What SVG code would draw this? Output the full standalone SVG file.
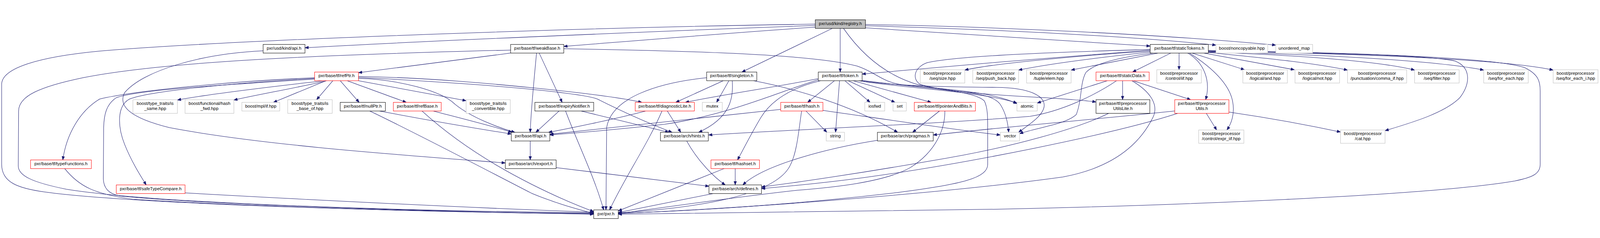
<svg xmlns="http://www.w3.org/2000/svg" width="4816" height="608" viewBox="0 0 4816 608" style="width:100%;height:100%">
<defs>
<marker id="ah" markerUnits="userSpaceOnUse" markerWidth="12" markerHeight="10" refX="11" refY="5" orient="auto">
<path d="M0.5,1 L11,5 L0.5,9 z" fill="#191970" stroke="#191970" stroke-width="1"/>
</marker>
<style>
.e{fill:none;stroke:#191970;stroke-width:1.2;marker-end:url(#ah)}
.b{fill:#ffffff;stroke:#000000;stroke-width:1.2}
.r{fill:#ffffff;stroke:#ff0000;stroke-width:1.2}
.g{fill:#ffffff;stroke:#bfbfbf;stroke-width:1.2}
.root{fill:#bfbfbf;stroke:#000000;stroke-width:1.2}
text{font-family:"Liberation Sans",Arial,Helvetica,sans-serif;font-size:13.33px;fill:#000000;text-anchor:middle}
</style>
</defs>
<rect width="4816" height="608" fill="#ffffff"/>
<g id="edges">
<path class="e" d="M2454,19 C1800,28 700,66 300,100 C120,117 5,150 5,200 L5,440 C5,495 55,512 133,523 C400,560 1300,585 1787,588"/>
<path class="e" d="M2454,23 C2100,36 1300,68 918,90"/>
<path class="e" d="M2454,28 C2200,45 1900,70 1697,86"/>
<path class="e" d="M2505,32 L2233,163"/>
<path class="e" d="M2529,32 L2529,163"/>
<path class="e" d="M2539,32 C2590,105 2660,170 2760,200 C2870,228 2985,218 3012,262 C3028,288 3034,315 3036,344"/>
<path class="e" d="M2605,30 C2900,50 3200,68 3462,85"/>
<path class="e" d="M2605,24 C3000,35 3400,55 3660,82"/>
<path class="e" d="M2605,20 C3000,27 3500,50 3840,82"/>
<path class="e" d="M792,99 C600,108 430,160 375,225 C355,265 390,300 510,330 C800,385 1250,415 1521,436"/>
<path class="e" d="M1537,97 C1000,110 500,130 250,180 C120,207 56,235 56,280 L55,445 C55,475 100,495 200,515 C450,555 1100,578 1787,586"/>
<path class="e" d="M1537,106 L1079,165"/>
<path class="e" d="M1615,106 C1608,180 1598,280 1596,344"/>
<path class="e" d="M1623,106 L1692,254"/>
<path class="e" d="M1697,93 C2100,100 2450,110 2580,145 C2640,165 2650,192 2720,202 C2900,218 3000,228 3061,258"/>
<path class="e" d="M2127,180 C1980,195 1840,240 1826,330 L1824,577"/>
<path class="e" d="M2177,189 L2034,254"/>
<path class="e" d="M2194,189 L2157,254"/>
<path class="e" d="M2204,189 C2208,240 2200,300 2103,344"/>
<path class="e" d="M2268,189 C2380,210 2560,260 2702,344"/>
<path class="e" d="M2512,189 L2431,254"/>
<path class="e" d="M2527,189 L2515,344"/>
<path class="e" d="M2543,189 L2619,254"/>
<path class="e" d="M2553,189 L2694,254"/>
<path class="e" d="M2568,189 L2803,254"/>
<path class="e" d="M2585,189 C2700,210 2950,220 3061,256"/>
<path class="e" d="M2590,189 C2700,205 2850,208 3000,209 C3100,210 3145,235 3143,265 C3140,295 3095,322 3066,344"/>
<path class="e" d="M2595,188 C2750,210 2930,215 2963,250 C2973,270 2973,300 2973,330 L2973,440 C2973,480 2900,500 2700,525 C2400,560 2100,580 1861,587"/>
<path class="e" d="M2463,183 C2350,205 2150,235 2063,254"/>
<path class="e" d="M2463,186 C2350,220 2200,290 2000,320 C1800,342 1700,348 1655,352"/>
<path class="e" d="M2470,189 C2380,210 2320,250 2290,300 C2260,350 2235,400 2220,427"/>
<path class="e" d="M2350,275 C2100,300 1850,330 1655,350"/>
<path class="e" d="M2413,279 C2405,330 2400,400 2380,440 C2350,510 2200,565 1861,586"/>
<path class="e" d="M2425,279 L2489,344"/>
<path class="e" d="M2477,278 C2700,310 2900,340 3011,352"/>
<path class="e" d="M2213,452 L2213,502"/>
<path class="e" d="M2182,452 L1861,580"/>
<path class="e" d="M2067,370 C2100,430 2150,480 2183,502"/>
<path class="e" d="M2151,527 L1861,585"/>
<path class="e" d="M1947,279 C1850,305 1700,335 1651,344"/>
<path class="e" d="M1993,279 C1950,380 1880,480 1835,577"/>
<path class="e" d="M2008,279 L2049,344"/>
<path class="e" d="M1684,279 L1613,344"/>
<path class="e" d="M1702,279 C1740,380 1790,480 1817,577"/>
<path class="e" d="M1745,279 L2013,344"/>
<path class="e" d="M1596,370 L1596,427"/>
<path class="e" d="M1674,450 C1850,470 2000,490 2134,506"/>
<path class="e" d="M1137,279 C1300,310 1450,335 1539,349"/>
<path class="e" d="M1111,279 C1250,345 1450,450 1600,527 C1680,560 1740,575 1787,588"/>
<path class="e" d="M1300,279 C1400,305 1500,330 1541,344"/>
<path class="e" d="M1269,279 C1380,380 1500,450 1600,500 C1680,540 1740,565 1787,582"/>
<path class="e" d="M947,180 C700,190 400,220 300,244 C240,280 200,350 189,427"/>
<path class="e" d="M947,182 C700,196 450,220 390,244 C350,265 355,330 375,380 C395,430 420,470 440,502"/>
<path class="e" d="M947,184 C700,200 420,215 350,240 C320,260 313,290 312,330 L311,484 C312,510 325,528 360,535 C600,560 1300,582 1787,590"/>
<path class="e" d="M975,189 C900,198 650,225 534,247"/>
<path class="e" d="M983,189 C920,205 780,230 704,247"/>
<path class="e" d="M981,189 L823,254"/>
<path class="e" d="M1002,189 L953,246"/>
<path class="e" d="M1024,189 L1081,254"/>
<path class="e" d="M1045,189 L1223,254"/>
<path class="e" d="M1079,189 L1403,249"/>
<path class="e" d="M1079,176 C1300,180 1500,200 1600,210 C1750,225 1870,240 1932,254"/>
<path class="e" d="M1079,179 C1300,190 1500,205 1600,215 C1700,225 1780,235 1800,245 C1880,285 1960,320 2023,344"/>
<path class="e" d="M1079,182 C1200,185 1330,220 1370,260 C1420,300 1500,330 1550,344"/>
<path class="e" d="M194,452 C240,510 290,530 400,545 C800,570 1400,585 1787,589"/>
<path class="e" d="M557,526 C900,545 1400,570 1787,584"/>
<path class="e" d="M2829,279 L2747,344"/>
<path class="e" d="M2844,279 C2845,330 2820,400 2740,450 C2660,495 2500,510 2400,518 C2200,540 2000,570 1861,588"/>
<path class="e" d="M2641,368 C2500,390 2300,440 2236,502"/>
<path class="e" d="M3462,97 C3300,108 2800,150 2595,169"/>
<path class="e" d="M3462,100 C3300,110 3000,135 2904,157"/>
<path class="e" d="M3462,103 C3300,120 3150,140 3066,157"/>
<path class="e" d="M3486,106 L3224,157"/>
<path class="e" d="M3524,106 L3409,163"/>
<path class="e" d="M3549,106 L3549,156"/>
<path class="e" d="M3575,106 C3625,135 3645,190 3629,246"/>
<path class="e" d="M3580,106 C3650,150 3700,200 3710,250 C3718,290 3705,320 3693,337"/>
<path class="e" d="M3588,106 L3746,156"/>
<path class="e" d="M3623,106 L3896,156"/>
<path class="e" d="M3637,104 C3800,120 3950,135 4056,157"/>
<path class="e" d="M3637,103 C3900,112 4150,130 4258,157"/>
<path class="e" d="M3637,102 C3950,110 4300,125 4466,157"/>
<path class="e" d="M3637,101 C4000,106 4500,120 4675,157"/>
<path class="e" d="M3637,99 C3900,105 4300,110 4380,130 C4430,150 4425,200 4394,240 C4350,285 4250,315 4169,339"/>
<path class="e" d="M3637,98 C4100,105 4500,120 4590,150 C4630,170 4636,190 4636,220 L4636,440 C4636,470 4610,480 4560,490 C4300,535 3500,565 3000,575 C2500,585 2100,588 1861,590"/>
<path class="e" d="M3471,106 C3360,120 3290,140 3268,165 C3250,200 3258,240 3240,290 C3210,320 3120,330 3069,348"/>
<path class="e" d="M3462,95 C3300,100 2900,110 2790,135 C2750,150 2745,185 2770,200 C2850,225 3050,235 3145,240 C3220,245 3270,248 3299,253"/>
<path class="e" d="M3333,189 L3122,256"/>
<path class="e" d="M3361,189 C3300,230 3200,280 3100,296 C2800,320 2400,335 2133,352"/>
<path class="e" d="M3379,189 L3379,246"/>
<path class="e" d="M3411,189 L3584,246"/>
<path class="e" d="M3407,189 C3460,220 3490,260 3470,300 C3430,380 3350,450 3200,478 C2900,520 2300,570 1861,588"/>
<path class="e" d="M3337,287 C3250,330 3050,390 2800,430 C2600,465 2400,495 2292,508"/>
<path class="e" d="M3536,280 C3300,305 3000,330 2809,352"/>
<path class="e" d="M3545,287 C3350,350 2900,440 2600,480 C2450,500 2350,508 2292,513"/>
<path class="e" d="M3631,287 L3662,337"/>
<path class="e" d="M3699,283 C3850,305 3950,325 4035,343"/>
</g>
<g id="node-registry"><rect class="root" x="2454" y="6" width="151" height="26"/><text x="2529.5" y="21.7">pxr/usd/kind/registry.h</text></g>
<g id="node-kindapi"><rect class="b" x="792" y="80" width="126" height="26"/><text x="855" y="95.7">pxr/usd/kind/api.h</text></g>
<g id="node-weakBase"><rect class="b" x="1537" y="80" width="160" height="26"/><text x="1617" y="95.7">pxr/base/tf/weakBase.h</text></g>
<g id="node-staticTokens"><rect class="b" x="3462" y="80" width="175" height="26"/><text x="3549.5" y="95.7">pxr/base/tf/staticTokens.h</text></g>
<g id="node-noncopyable"><rect class="g" x="3660" y="80" width="156" height="26"/><text x="3738" y="95.7">boost/noncopyable.hpp</text></g>
<g id="node-unordered_map"><rect class="g" x="3840" y="80" width="111" height="26"/><text x="3895.5" y="95.7">unordered_map</text></g>
<g id="node-refPtr"><rect class="r" x="947" y="163" width="132" height="26"/><text x="1013" y="178.7">pxr/base/tf/refPtr.h</text></g>
<g id="node-singleton"><rect class="b" x="2127" y="163" width="151" height="26"/><text x="2202.5" y="178.7">pxr/base/tf/singleton.h</text></g>
<g id="node-token"><rect class="b" x="2463" y="163" width="132" height="26"/><text x="2529" y="178.7">pxr/base/tf/token.h</text></g>
<g id="node-seqsize"><rect class="g" x="2770" y="156" width="134" height="40"/><text x="2837" y="171.5">boost/preprocessor</text><text x="2837" y="186.5">/seq/size.hpp</text></g>
<g id="node-pushback"><rect class="g" x="2928" y="156" width="138" height="40"/><text x="2997" y="171.5">boost/preprocessor</text><text x="2997" y="186.5">/seq/push_back.hpp</text></g>
<g id="node-tupleelem"><rect class="g" x="3090" y="156" width="134" height="40"/><text x="3157" y="171.5">boost/preprocessor</text><text x="3157" y="186.5">/tuple/elem.hpp</text></g>
<g id="node-staticData"><rect class="r" x="3299" y="163" width="160" height="26"/><text x="3379" y="178.7">pxr/base/tf/staticData.h</text></g>
<g id="node-iif"><rect class="g" x="3482" y="156" width="134" height="40"/><text x="3549" y="171.5">boost/preprocessor</text><text x="3549" y="186.5">/control/iif.hpp</text></g>
<g id="node-and"><rect class="g" x="3741" y="156" width="134" height="40"/><text x="3808" y="171.5">boost/preprocessor</text><text x="3808" y="186.5">/logical/and.hpp</text></g>
<g id="node-not"><rect class="g" x="3898" y="156" width="134" height="40"/><text x="3965" y="171.5">boost/preprocessor</text><text x="3965" y="186.5">/logical/not.hpp</text></g>
<g id="node-comma_if"><rect class="g" x="4056" y="156" width="178" height="40"/><text x="4145" y="171.5">boost/preprocessor</text><text x="4145" y="186.5">/punctuation/comma_if.hpp</text></g>
<g id="node-filter"><rect class="g" x="4258" y="156" width="134" height="40"/><text x="4325" y="171.5">boost/preprocessor</text><text x="4325" y="186.5">/seq/filter.hpp</text></g>
<g id="node-for_each"><rect class="g" x="4466" y="156" width="134" height="40"/><text x="4533" y="171.5">boost/preprocessor</text><text x="4533" y="186.5">/seq/for_each.hpp</text></g>
<g id="node-for_each_i"><rect class="g" x="4675" y="156" width="135" height="40"/><text x="4742.5" y="171.5">boost/preprocessor</text><text x="4742.5" y="186.5">/seq/for_each_i.hpp</text></g>
<g id="node-is_same"><rect class="g" x="400" y="246" width="134" height="41"/><text x="467" y="261.5">boost/type_traits/is</text><text x="467" y="276.5">_same.hpp</text></g>
<g id="node-hash_fwd"><rect class="g" x="557" y="246" width="147" height="41"/><text x="630.5" y="261.5">boost/functional/hash</text><text x="630.5" y="276.5">_fwd.hpp</text></g>
<g id="node-mpl_if"><rect class="g" x="728" y="254" width="114" height="26"/><text x="785" y="269.7">boost/mpl/if.hpp</text></g>
<g id="node-is_base_of"><rect class="g" x="866" y="246" width="134" height="41"/><text x="933" y="261.5">boost/type_traits/is</text><text x="933" y="276.5">_base_of.hpp</text></g>
<g id="node-nullPtr"><rect class="b" x="1024" y="254" width="136" height="26"/><text x="1092" y="269.7">pxr/base/tf/nullPtr.h</text></g>
<g id="node-refBase"><rect class="r" x="1184" y="254" width="144" height="26"/><text x="1256" y="269.7">pxr/base/tf/refBase.h</text></g>
<g id="node-is_convertible"><rect class="g" x="1403" y="246" width="133" height="41"/><text x="1469.5" y="261.5">boost/type_traits/is</text><text x="1469.5" y="276.5">_convertible.hpp</text></g>
<g id="node-expiryNotifier"><rect class="b" x="1610" y="254" width="177" height="26"/><text x="1698.5" y="269.7">pxr/base/tf/expiryNotifier.h</text></g>
<g id="node-diagnosticLite"><rect class="r" x="1912" y="254" width="178" height="26"/><text x="2001" y="269.7">pxr/base/tf/diagnosticLite.h</text></g>
<g id="node-mutex"><rect class="g" x="2114" y="254" width="60" height="26"/><text x="2144" y="269.7">mutex</text></g>
<g id="node-hash"><rect class="r" x="2350" y="254" width="127" height="26"/><text x="2413.5" y="269.7">pxr/base/tf/hash.h</text></g>
<g id="node-iosfwd"><rect class="g" x="2603" y="254" width="60" height="26"/><text x="2633" y="269.7">iosfwd</text></g>
<g id="node-set"><rect class="g" x="2688" y="254" width="40" height="26"/><text x="2708" y="269.7">set</text></g>
<g id="node-pointerAndBits"><rect class="r" x="2752" y="254" width="184" height="26"/><text x="2844" y="269.7">pxr/base/tf/pointerAndBits.h</text></g>
<g id="node-atomic"><rect class="g" x="3061" y="254" width="61" height="26"/><text x="3091.5" y="269.7">atomic</text></g>
<g id="node-ppUtilsLite"><rect class="b" x="3299" y="246" width="162" height="41"/><text x="3380" y="261.5">pxr/base/tf/preprocessor</text><text x="3380" y="276.5">UtilsLite.h</text></g>
<g id="node-ppUtils"><rect class="r" x="3536" y="246" width="163" height="41"/><text x="3617.5" y="261.5">pxr/base/tf/preprocessor</text><text x="3617.5" y="276.5">Utils.h</text></g>
<g id="node-expr_iif"><rect class="g" x="3608" y="337" width="136" height="40"/><text x="3676" y="352.5">boost/preprocessor</text><text x="3676" y="367.5">/control/expr_iif.hpp</text></g>
<g id="node-cat"><rect class="g" x="4035" y="337" width="134" height="40"/><text x="4102" y="352.5">boost/preprocessor</text><text x="4102" y="367.5">/cat.hpp</text></g>
<g id="node-tfapi"><rect class="b" x="1539" y="344" width="116" height="26"/><text x="1597" y="359.7">pxr/base/tf/api.h</text></g>
<g id="node-hints"><rect class="b" x="1988" y="344" width="144" height="26"/><text x="2060" y="359.7">pxr/base/arch/hints.h</text></g>
<g id="node-string"><rect class="g" x="2487" y="344" width="55" height="26"/><text x="2514.5" y="359.7">string</text></g>
<g id="node-pragmas"><rect class="b" x="2641" y="344" width="168" height="26"/><text x="2725" y="359.7">pxr/base/arch/pragmas.h</text></g>
<g id="node-vector"><rect class="g" x="3011" y="344" width="58" height="26"/><text x="3040" y="359.7">vector</text></g>
<g id="node-typeFunctions"><rect class="r" x="92" y="427" width="183" height="26"/><text x="183.5" y="442.7">pxr/base/tf/typeFunctions.h</text></g>
<g id="node-export"><rect class="b" x="1521" y="427" width="153" height="26"/><text x="1597.5" y="442.7">pxr/base/arch/export.h</text></g>
<g id="node-hashset"><rect class="r" x="2140" y="427" width="146" height="26"/><text x="2213" y="442.7">pxr/base/tf/hashset.h</text></g>
<g id="node-safeTypeCompare"><rect class="r" x="350" y="502" width="207" height="26"/><text x="453.5" y="517.7">pxr/base/tf/safeTypeCompare.h</text></g>
<g id="node-defines"><rect class="b" x="2134" y="502" width="158" height="26"/><text x="2213" y="517.7">pxr/base/arch/defines.h</text></g>
<g id="node-pxr"><rect class="b" x="1787" y="577" width="74" height="26"/><text x="1824" y="592.7">pxr/pxr.h</text></g>
</svg>
